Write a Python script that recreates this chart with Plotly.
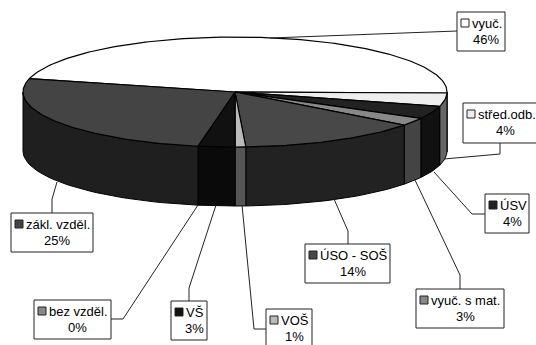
import numpy as np
import plotly.graph_objects as go

W, H = 536, 345

# Data
categories = ["vyuč.", "střed.odb.", "ÚSV", "vyuč. s mat.", "ÚSO - SOŠ", "VOŠ", "VŠ", "bez vzděl.", "zákl. vzděl."]
percent_labels = ["46%", "4%", "4%", "3%", "14%", "1%", "3%", "0%", "25%"]
# shares as the drawn slices measure them (3-D view distorts them slightly)
shares = [46.4, 3.9, 3.8, 2.3, 13.9, 0.8, 2.8, 0.0, 26.1]
top_colors = ["#ffffff", "#eeeeee", "#222222", "#888888", "#484848", "#bbbbbb", "#111111", "#888888", "#444444"]
wall_colors = ["#777777", "#666666", "#111111", "#444444", "#222222", "#555555", "#0a0a0a", "#444444", "#1f1f1f"]

# Geometry of the tilted pie (axis units = pixels)
CX, CY, RX, RY, DEPTH = 235, 92, 212, 55, 59
START = 166.0

box_pos = [(457, 12, 505, 51), (463, 103, 537, 143), (485, 194, 529, 233), (416, 289, 504, 328),
           (305, 244, 390, 283), (266, 309, 312, 346), (171, 301, 207, 340), (34, 300, 111, 339), (11, 213, 93, 252)]
leaders = [[(270, 38), (457, 31)],
           [(444, 159), (500, 154), (500, 143)],
           [(434, 172), (472, 214), (485, 214)],
           [(415, 180), (460, 275), (460, 289)],
           [(334, 199), (348, 231), (348, 244)],
           [(242, 205), (254, 329), (266, 329)],
           [(216, 205), (189, 288), (189, 301)],
           [(198, 205), (123, 319), (111, 319)],
           [(57, 182), (52, 199), (52, 213)]]

fig = go.Figure()


def ell(a, dy=0.0):
    r = np.radians(a)
    return CX + RX * np.cos(r), CY + dy - RY * np.sin(r)


def poly(x, y, fill, width=1.0):
    fig.add_trace(go.Scatter(x=list(x), y=list(y), mode="lines", fill="toself", fillcolor=fill,
                             line=dict(color="#000000", width=width), hoverinfo="skip", showlegend=False))


# slice angles (clockwise from START)
ends = START - np.cumsum(shares) * 3.6
starts = np.concatenate([[START], ends[:-1]])

# walls: only the front half of the rim is visible
for s, e, c in zip(starts, ends, wall_colors):
    lo, hi = max(e, -180.0), min(s, 0.0)
    if hi - lo <= 0.01:
        continue
    t = np.linspace(hi, lo, 40)
    x1, y1 = ell(t)
    x2, y2 = ell(t[::-1], DEPTH)
    poly(np.r_[x1, x2, x1[0]], np.r_[y1, y2, y1[0]], c, 1.0)

# top faces
for s, e, c in zip(starts, ends, top_colors):
    if s - e <= 0.01:
        continue
    t = np.linspace(s, e, max(int(s - e), 4) + 1)
    x, y = ell(t)
    poly(np.r_[CX, x, CX], np.r_[CY, y, CY], c, 1.2)

# leader lines
for pts in leaders:
    fig.add_trace(go.Scatter(x=[p[0] for p in pts], y=[p[1] for p in pts], mode="lines",
                             line=dict(color="#222222", width=1), hoverinfo="skip", showlegend=False))

shapes, annotations = [], []
FONT = "Liberation Sans, Arial, sans-serif"
for name, pct, col, (x0, y0, x1, y1) in zip(categories, percent_labels, top_colors, box_pos):
    shapes.append(dict(type="rect", x0=x0, y0=y0, x1=x1, y1=y1, fillcolor="#ffffff",
                       line=dict(color="#222222", width=1), layer="above"))
    kx = x0 + 4
    shapes.append(dict(type="rect", x0=kx, y0=y0 + 7, x1=kx + 8, y1=y0 + 15, fillcolor=col,
                       line=dict(color="#222222", width=1), layer="above"))
    annotations.append(dict(x=kx + 9, y=y0 + 11, text=name, showarrow=False, xanchor="left", yanchor="middle",
                            font=dict(family=FONT, size=13, color="#000000"), xref="x", yref="y"))
    annotations.append(dict(x=(x0 + x1) / 2 + 5, y=y0 + 27, text=pct, showarrow=False, xanchor="center",
                            yanchor="middle", font=dict(family=FONT, size=13, color="#000000"), xref="x", yref="y"))

# title, almost entirely cut off by the top of the picture
annotations.append(dict(x=268.5 / W, y=1, xref="paper", yref="paper", yanchor="bottom", yshift=-2,
                        text="y\u00a0\u00a0\u00a0\u00a0\u00a0\u00a0\u00a0\u00a0p", showarrow=False,
                        font=dict(family=FONT, size=15, color="#000000", weight="bold")))

fig.update_layout(width=W, height=H, margin=dict(l=0, r=0, t=0, b=0), paper_bgcolor="#ffffff",
                  plot_bgcolor="#ffffff", showlegend=False, shapes=shapes, annotations=annotations,
                  xaxis=dict(range=[0, W], visible=False, fixedrange=True),
                  yaxis=dict(range=[H, 0], visible=False, fixedrange=True))
fig.write_html("out.html", config=dict(displayModeBar=False),
               post_script="document.body.style.margin='0';document.documentElement.style.overflow='hidden';")
